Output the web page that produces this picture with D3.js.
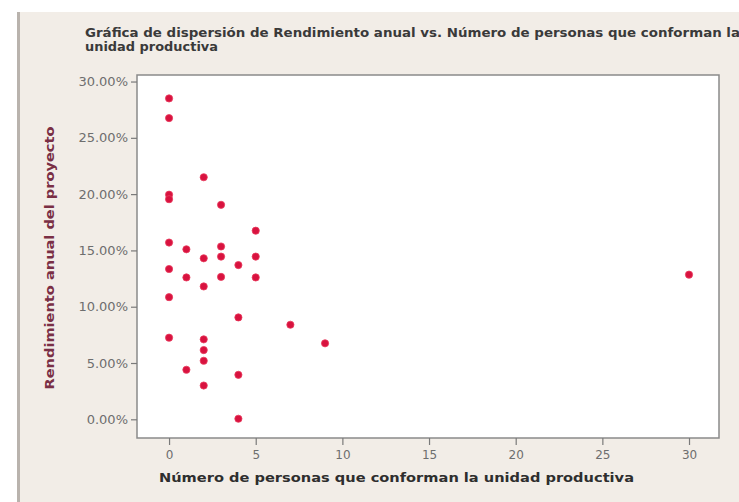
<!DOCTYPE html>
<html><head><meta charset="utf-8">
<script src="https://cdn.jsdelivr.net/npm/d3@7"></script>
<style>body{margin:0;background:#fff}svg{display:block}</style>
</head><body><div id="chart"></div>
<script>
const titleLines = ["Gráfica de dispersión de Rendimiento anual vs. Número de personas que conforman la", "unidad productiva"];
const xTitle = "Número de personas que conforman la unidad productiva";
const yTitle = "Rendimiento anual del proyecto";
const personas = [0,0,2,0,0,3,0,1,2,3,3,5,5,4,0,1,3,5,2,0,4,7,0,9,2,2,2,1,4,2,4,30];
const rendimiento = [28.5,26.75,21.5,19.95,19.55,19.05,15.7,15.1,14.3,15.35,14.45,16.75,14.45,13.7,13.35,12.6,12.65,12.6,11.8,10.85,9.05,8.4,7.25,6.75,7.1,6.15,5.2,4.4,3.95,3.0,0.05,12.85];
const xTicks = [0,5,10,15,20,25,30];
const yTicks = [0,5,10,15,20,25,30];

const W = 739, H = 502;
const svg = d3.select("#chart").append("svg").attr("width", W).attr("height", H);
// panel
svg.append("rect").attr("x", 17).attr("y", 12).attr("width", W - 17).attr("height", H - 12).attr("fill", "#f2ede7");
svg.append("rect").attr("x", 17).attr("y", 12).attr("width", 3).attr("height", H - 12).attr("fill", "#b9b3ad");

const L = 137, R = 719, T = 75, B = 438;
const x = d3.scaleLinear().domain([-1.85, 31.73]).range([L, R]);
const y = d3.scaleLinear().domain([-1.66, 30.58]).range([B, T]);

svg.append("rect").attr("x", L).attr("y", T).attr("width", R - L).attr("height", B - T)
  .attr("fill", "#fff").attr("stroke", "#8a8a8a").attr("stroke-width", 1.5);

const ga = svg.append("g").attr("transform", `translate(${L},0)`)
  .call(d3.axisLeft(y).tickValues(yTicks).tickSize(6).tickPadding(3).tickFormat(d => d.toFixed(2) + "%"));
const gb = svg.append("g").attr("transform", `translate(0,${B})`)
  .call(d3.axisBottom(x).tickValues(xTicks).tickSize(7).tickPadding(5).tickFormat(d3.format("d")));
[ga, gb].forEach(g => {
  g.select(".domain").remove();
  g.selectAll(".tick line").attr("stroke", "#7a7a7a").attr("stroke-width", 1.2);
  g.selectAll(".tick text").attr("fill", "#6e6e6e").attr("font-family", "DejaVu Sans, sans-serif").attr("font-size", 12);
});
ga.selectAll(".tick text").attr("font-size", 13);

svg.append("g").selectAll("circle").data(personas).join("circle")
  .attr("cx", (d, i) => x(d)).attr("cy", (d, i) => y(rendimiento[i])).attr("r", 3.6)
  .attr("fill", "#d8123f").attr("stroke", "#e83a5c").attr("stroke-width", 0.8);

const titleLen = [655, 133];
svg.append("g").selectAll("text").data(titleLines).join("text")
  .attr("x", 85).attr("y", (d, i) => 37 + i * 14)
  .attr("textLength", (d, i) => titleLen[i]).attr("lengthAdjust", "spacingAndGlyphs")
  .attr("font-family", "DejaVu Sans, sans-serif").attr("font-weight", "bold").attr("font-size", 12)
  .attr("fill", "#3a3a3a").text(d => d);

svg.append("text").attr("x", 159).attr("y", 482)
  .attr("textLength", 475).attr("lengthAdjust", "spacingAndGlyphs")
  .attr("font-family", "DejaVu Sans, sans-serif").attr("font-weight", "bold").attr("font-size", 12.5)
  .attr("fill", "#2e2e2e").text(xTitle);

svg.append("text").attr("transform", "translate(54,258) rotate(-90)").attr("text-anchor", "middle")
  .attr("textLength", 263).attr("lengthAdjust", "spacingAndGlyphs")
  .attr("font-family", "DejaVu Sans, sans-serif").attr("font-weight", "bold").attr("font-size", 12.5)
  .attr("fill", "#7a2f45").text(yTitle);
</script></body></html>
